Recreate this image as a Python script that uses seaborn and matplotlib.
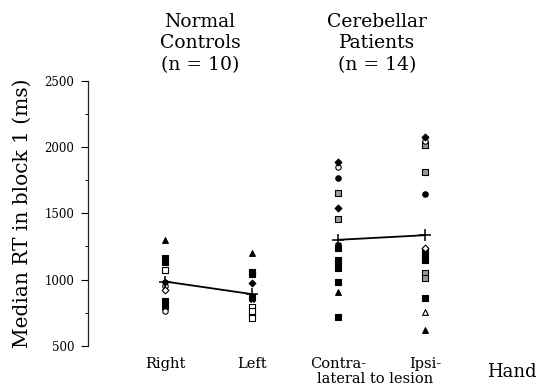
import numpy as np
import pandas as pd
import matplotlib
matplotlib.use("Agg")
import matplotlib.pyplot as plt
import seaborn as sns
from matplotlib.ticker import MultipleLocator
from matplotlib.transforms import blended_transform_factory

# ---------------- data ----------------
conditions = ["Right", "Left", "Contra-", "Ipsi-"]
group_titles = ["Normal\nControls\n(n = 10)", "Cerebellar\nPatients\n(n = 14)"]

right_rt = [1300, 1160, 1130, 1075, 985, 950, 920, 840, 800, 760]
right_mk = ["tri_f", "sq_f", "sq_f", "sq_o", "hex_f", "ci_o", "di_o", "sq_f", "sq_f", "ci_o"]
left_rt = [1200, 1060, 1040, 970, 870, 850, 790, 760, 730, 710]
left_mk = ["tri_f", "sq_f", "sq_f", "di_f", "sq_f", "x", "sq_o", "sq_o", "sq_f", "sq_o"]
contra_rt = [1890, 1850, 1770, 1655, 1540, 1460, 1260, 1240, 1150, 1120, 1090, 985, 905, 715]
contra_mk = ["di_f", "ci_o", "ci_f", "sq_d", "di_f", "sq_d", "x", "sq_f", "sq_f", "sq_f",
             "sq_f", "sq_f", "tri_f", "sq_f"]
ipsi_rt = [2080, 2050, 2013, 1815, 1647, 1236, 1210, 1170, 1150, 1050, 1010, 858, 752, 619]
ipsi_mk = ["di_f", "ci_o", "sq_d", "sq_d", "ci_f", "di_o", "sq_f", "sq_f", "sq_f", "sq_d",
           "sq_d", "sq_f", "tri_o", "tri_f"]

normal_means = [985, 890]
cerebellar_means = [1300, 1335]

ylabel = "Median RT in block 1 (ms)"
shared_label = "lateral to lesion"
axis_word = "Hand"

# ---------------- build table ----------------
rows = []
for ci, (vals, mks) in enumerate([(right_rt, right_mk), (left_rt, left_mk),
                                  (contra_rt, contra_mk), (ipsi_rt, ipsi_mk)]):
    for v, m in zip(vals, mks):
        rows.append({"pos": ci, "rt": v, "mk": m})
df = pd.DataFrame(rows)

means_df = pd.DataFrame({
    "pos": [0, 1, 2, 3],
    "rt": normal_means + cerebellar_means,
    "grp": ["n", "n", "c", "c"],
})

styles = {
    "tri_f": ("^", "black", 1.0), "tri_o": ("^", "white", 1.0),
    "sq_f": ("s", "black", 0.9), "sq_o": ("s", "white", 0.9), "sq_d": ("s", "#9a9a9a", 0.9),
    "ci_f": ("o", "black", 0.9), "ci_o": ("o", "white", 0.9),
    "di_f": ("D", "black", 0.7), "di_o": ("D", "white", 0.7),
    "hex_f": ("h", "black", 1.0), "x": ("X", "black", 1.0),
}

# ---------------- figure ----------------
sns.set_style("white")
plt.rcParams["font.family"] = ["DejaVu Serif"]
for k in ["text.color", "axes.labelcolor", "xtick.color", "ytick.color"]:
    plt.rcParams[k] = "black"

fig = plt.figure(figsize=(5.39, 3.88), dpi=100)
ax = fig.add_axes([88 / 539, 42.3 / 388, 382 / 539, 264.7 / 388])

for code, (mk, fc, sc) in styles.items():
    sub = df[df["mk"] == code]
    if sub.empty:
        continue
    sns.scatterplot(data=sub, x="pos", y="rt", marker=mk, color=fc, edgecolor="black",
                    linewidth=0.8, s=17 * sc, ax=ax, legend=False, zorder=3, clip_on=False)

for g in ["n", "c"]:
    sns.lineplot(data=means_df[means_df["grp"] == g], x="pos", y="rt", color="black",
                 linewidth=1.3, marker="+", markersize=9, markeredgewidth=1.1,
                 markeredgecolor="black", ax=ax, legend=False, zorder=4, errorbar=None)

ax.set_ylim(500, 2500)
ax.set_xlim(-0.888, 3.52)
ax.yaxis.set_major_locator(MultipleLocator(500))
ax.yaxis.set_minor_locator(MultipleLocator(250))
ax.tick_params(axis="y", which="major", length=5, width=0.8, labelsize=8.5, pad=5, left=True)
ax.tick_params(axis="y", which="minor", length=2.5, width=0.7, left=True)
ax.set_xticks(range(len(conditions)))
ax.set_xticklabels(conditions, fontsize=10.5)
ax.tick_params(axis="x", length=0, pad=8)

for side in ["top", "right", "bottom"]:
    ax.spines[side].set_visible(False)
ax.spines["left"].set_color("#222222")
ax.spines["left"].set_linewidth(0.9)

ax.set_xlabel("")
ax.set_ylabel(ylabel, fontsize=14.5, labelpad=9)

trans = blended_transform_factory(ax.transData, ax.transAxes)
ax.text(2.42, -37 / 264.7, shared_label, transform=trans, ha="center", va="baseline",
        fontsize=10.5)

fig.text(512 / 539, 11 / 388, axis_word, ha="center", va="baseline", fontsize=13)
fig.text(200 / 539, 1 - 13 / 388, group_titles[0], ha="center", va="top", fontsize=13.5,
         linespacing=1.25)
fig.text(377 / 539, 1 - 13 / 388, group_titles[1], ha="center", va="top", fontsize=13.5,
         linespacing=1.25)

fig.savefig("out.png", dpi=100)
